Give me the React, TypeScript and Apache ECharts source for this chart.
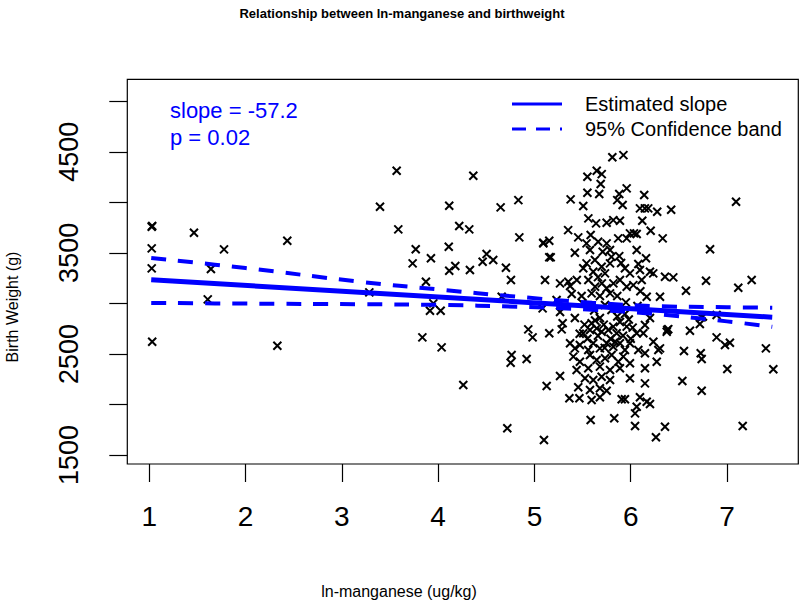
import React, { useEffect, useRef } from "react";
import * as echarts from "echarts";

const FONT = "'Liberation Sans', Arial, Helvetica, sans-serif";

const xTicks = [1, 2, 3, 4, 5, 6, 7];
const yTicks = [1500, 2000, 2500, 3000, 3500, 4000, 4500, 5000];
const yTickLabels = [1500, 2500, 3500, 4500];

// ln-manganese (ug/kg), birth weight (g)
const observations: [number, number][] = [
  [1.025, 3758], [1.03, 3765], [1.464, 3699], [1.025, 3544], [1.776, 3534], [2.433, 3620],
  [1.025, 3346], [1.64, 3340], [1.03, 2621], [1.607, 3040], [2.33, 2581],
  [3.569, 4312], [4.365, 4262], [3.396, 3956], [4.115, 3966], [4.649, 3950], [4.833, 4022],
  [3.586, 3732], [4.219, 3765], [4.323, 3732], [4.843, 3653], [5.092, 3594], [5.154, 3456],
  [3.767, 3535], [4.11, 3560], [3.735, 3396], [3.925, 3446], [4.503, 3488], [4.462, 3412],
  [4.572, 3429], [4.178, 3370], [4.115, 3323], [4.33, 3330], [4.704, 3353], [4.756, 3231],
  [5.11, 3231], [3.873, 3214], [3.285, 3109], [4.66, 3066], [3.95, 3000], [3.915, 2927],
  [4.026, 2927], [5.085, 2951],
  [3.836, 2664], [4.036, 2565], [4.261, 2192], [4.936, 2743], [4.981, 2664], [4.763, 2489],
  [4.753, 2413], [4.919, 2449], [5.154, 2704], [5.127, 2182], [4.718, 1764], [5.099, 1648],
  [5.809, 4445], [5.924, 4467], [5.55, 4253], [5.647, 4312], [5.699, 4279], [5.688, 4181],
  [5.55, 4095], [5.673, 4082], [5.376, 4029], [5.507, 3963], [5.881, 4082], [5.958, 4138],
  [5.86, 4022], [5.916, 3973], [6.14, 4072], [6.096, 3940], [6.147, 3940], [6.182, 3940],
  [6.275, 3907], [6.42, 3926], [5.56, 3841], [5.64, 3792], [5.75, 3798], [5.819, 3824],
  [5.888, 3817], [6.12, 3817], [6.207, 3718], [5.35, 3725], [5.455, 3653], [5.584, 3676],
  [5.992, 3693], [6.034, 3693], [6.062, 3686], [5.958, 3643], [6.332, 3643], [5.092, 3600],
  [5.154, 3620], [5.169, 3456], [5.42, 3501], [5.541, 3594], [5.662, 3610], [5.75, 3594],
  [5.87, 3643], [5.577, 3528], [5.709, 3511], [5.785, 3528], [5.881, 3468], [6.062, 3528],
  [6.159, 3446], [6.079, 3389], [5.541, 3396], [5.628, 3429], [5.698, 3363], [5.785, 3396],
  [5.507, 3347], [5.611, 3313], [5.733, 3297], [5.94, 3347], [5.992, 3297], [6.096, 3330],
  [6.2, 3313], [6.234, 3297], [5.266, 3198], [5.352, 3214], [5.44, 3231], [5.37, 3172],
  [5.56, 3231], [5.63, 3165], [5.7, 3198], [5.82, 3198], [5.888, 3231], [5.958, 3165],
  [6.027, 3181], [6.114, 3231], [6.356, 3264], [5.387, 3093], [5.49, 3073], [5.594, 3099],
  [5.68, 3073], [5.785, 3099], [5.86, 3073], [6.166, 3066], [6.304, 3066], [5.23, 3033],
  [5.283, 2743], [5.293, 2803], [5.507, 2704], [5.577, 2737], [5.594, 2803], [5.646, 2753],
  [5.698, 2720], [5.767, 2737], [5.819, 2770], [5.854, 2704], [5.958, 2770], [6.062, 2704],
  [6.148, 2786], [6.131, 2704], [6.235, 2621], [6.287, 2539], [6.374, 2720], [5.37, 2605],
  [5.42, 2555], [5.472, 2588], [5.559, 2539], [5.611, 2605], [5.68, 2555], [5.75, 2605],
  [5.819, 2571], [5.888, 2605], [5.94, 2539], [5.992, 2605], [6.079, 2539], [6.148, 2506],
  [6.27, 2423], [5.404, 2473], [5.472, 2423], [5.577, 2489], [5.646, 2440], [5.733, 2457],
  [5.802, 2489], [5.871, 2423], [5.923, 2473], [5.992, 2407], [5.438, 2341], [5.559, 2358],
  [5.68, 2374], [5.785, 2341], [5.888, 2358], [6.148, 2358], [5.266, 2282], [5.525, 2259],
  [5.611, 2242], [5.698, 2275], [5.785, 2242], [5.992, 2259], [6.148, 2209], [5.455, 2170],
  [5.577, 2143], [5.68, 2160], [5.75, 2136], [5.363, 2061], [5.467, 2061], [5.594, 2044],
  [5.68, 2071], [5.906, 2051], [5.94, 2051], [6.096, 2071], [6.166, 2027], [6.2, 2005],
  [6.062, 1978], [6.045, 1912], [5.584, 1846], [5.829, 1863], [6.045, 1787], [6.356, 1780],
  [6.262, 1675],
  [5.266, 2914], [5.42, 2855], [5.577, 2974], [5.68, 2855], [5.8, 2934], [5.94, 2895],
  [6.07, 2974], [6.2, 2855], [5.733, 2984], [5.888, 2816],
  [5.52, 2790], [5.63, 2830], [5.72, 2790], [5.86, 2870], [5.98, 2840], [6.02, 2760],
  [5.55, 2650], [5.66, 2680], [5.79, 2650], [5.92, 2680], [6.0, 2650], [5.47, 2700],
  [5.73, 2560], [5.84, 2620], [5.62, 2930], [5.5, 3000], [5.95, 3010], [6.1, 3120],
  [5.75, 3150], [5.66, 3260], [5.9, 3400], [5.8, 3460],
  [7.094, 4006], [6.824, 3535], [6.442, 3257], [6.782, 3224], [6.574, 3125], [7.256, 3231],
  [7.117, 3155], [6.736, 2862], [6.75, 2870], [6.892, 2885], [6.379, 2737], [6.39, 2745],
  [6.615, 2730], [6.718, 2796], [6.892, 2664], [6.979, 2588], [7.03, 2611], [7.404, 2555],
  [6.304, 2555], [6.553, 2529], [6.727, 2506], [6.737, 2449], [7.003, 2351], [7.481, 2348],
  [6.536, 2232], [6.737, 2136], [7.163, 1787]
];

const fitX = [1.02, 7.47];
const fitY = [3234, 2864];

const bandX = [1.02, 2, 3.19, 4, 4.82, 5.6, 6.23, 7.0, 7.47];
const bandUpper = [3449, 3350, 3214, 3138, 3066, 3007, 2974, 2962, 2957];
const bandLower = [3005, 2998, 2992, 2985, 2967, 2937, 2897, 2822, 2769];

const legendLabels = ["Estimated slope", "95% Confidence band"];
const slopeText = "slope = -57.2";
const pText = "p = 0.02";

const BLUE = "#0000ff";

export default function App() {
  const ref = useRef<HTMLDivElement>(null);
  useEffect(() => {
    if (!ref.current) return;
    const chart = echarts.init(ref.current, null, { renderer: "svg" });
    const zip = (xs: number[], ys: number[]) => xs.map((x, i) => [x, ys[i]]);
    chart.setOption({
      animation: false,
      backgroundColor: "#ffffff",
      textStyle: { fontFamily: FONT },
      grid: {
        left: 127.3,
        right: 1.7,
        top: 79.3,
        bottom: 145,
        show: true,
        borderColor: "#000",
        borderWidth: 1.2,
        backgroundColor: "transparent",
      },
      xAxis: {
        type: "value",
        min: 0.7715,
        max: 7.7405,
        splitLine: { show: false },
        axisLine: { show: false },
        axisTick: {
          show: true,
          length: 18,
          lineStyle: { color: "#000", width: 1.2 },
          customValues: xTicks,
        },
        axisLabel: {
          customValues: xTicks,
          margin: 38,
          fontSize: 28,
          color: "#000",
          fontFamily: FONT,
        },
      },
      yAxis: {
        type: "value",
        min: 1411,
        max: 5217,
        splitLine: { show: false },
        axisLine: { show: false },
        axisTick: {
          show: true,
          length: 18,
          lineStyle: { color: "#000", width: 1.2 },
          customValues: yTicks,
        },
        axisLabel: {
          customValues: yTickLabels,
          formatter: (v: number) => String(v),
          rotate: 90,
          margin: 45,
          fontSize: 27,
          color: "#000",
          fontFamily: FONT,
        },
      },
      series: [
        {
          type: "scatter",
          data: observations,
          symbol: "path://M0 0L10 10M10 0L0 10",
          symbolSize: 8,
          itemStyle: { color: "rgba(0,0,0,0)", borderColor: "#000", borderWidth: 2, opacity: 1 },
          z: 2,
        },
        {
          type: "line",
          data: zip(fitX, fitY),
          showSymbol: false,
          symbol: "none",
          lineStyle: { color: BLUE, width: 5 },
          z: 3,
        },
        {
          type: "line",
          data: zip(bandX, bandUpper),
          smooth: 0.4,
          symbol: "none",
          lineStyle: { color: BLUE, width: 4, type: [15, 12] },
          z: 3,
        },
        {
          type: "line",
          data: zip(bandX, bandLower),
          smooth: 0.4,
          symbol: "none",
          lineStyle: { color: BLUE, width: 4, type: [15, 12] },
          z: 3,
        },
      ],
      graphic: [
        {
          type: "text",
          x: 402,
          y: 13,
          style: {
            text: "Relationship between ln-manganese and birthweight",
            font: `bold 13px ${FONT}`,
            fill: "#000",
            textAlign: "center",
            textVerticalAlign: "middle",
          },
        },
        {
          type: "text",
          x: 399,
          y: 591,
          style: {
            text: "ln-manganese (ug/kg)",
            font: `16px ${FONT}`,
            fill: "#000",
            textAlign: "center",
            textVerticalAlign: "middle",
          },
        },
        {
          type: "text",
          x: 12,
          y: 307,
          rotation: Math.PI / 2,
          style: {
            text: "Birth Weight (g)",
            font: `16px ${FONT}`,
            fill: "#000",
            textAlign: "center",
            textVerticalAlign: "middle",
          },
        },
        {
          type: "text",
          x: 170,
          y: 110,
          style: {
            text: slopeText,
            font: `22px ${FONT}`,
            fill: BLUE,
            textAlign: "left",
            textVerticalAlign: "middle",
          },
        },
        {
          type: "text",
          x: 170,
          y: 137,
          style: {
            text: pText,
            font: `22px ${FONT}`,
            fill: BLUE,
            textAlign: "left",
            textVerticalAlign: "middle",
          },
        },
        {
          type: "line",
          shape: { x1: 512, y1: 104, x2: 562, y2: 104 },
          style: { stroke: BLUE, lineWidth: 3 },
        },
        {
          type: "line",
          shape: { x1: 512, y1: 129, x2: 562, y2: 129 },
          style: { stroke: BLUE, lineWidth: 3, lineDash: [14, 10] },
        },
        {
          type: "text",
          x: 585,
          y: 104,
          style: {
            text: legendLabels[0],
            font: `20px ${FONT}`,
            fill: "#000",
            textAlign: "left",
            textVerticalAlign: "middle",
          },
        },
        {
          type: "text",
          x: 585,
          y: 129,
          style: {
            text: legendLabels[1],
            font: `20px ${FONT}`,
            fill: "#000",
            textAlign: "left",
            textVerticalAlign: "middle",
          },
        },
      ],
    });
    return () => chart.dispose();
  }, []);
  return (
    <div
      ref={ref}
      style={{ position: "fixed", left: 0, top: 0, width: 800, height: 609, background: "#fff" }}
    />
  );
}
